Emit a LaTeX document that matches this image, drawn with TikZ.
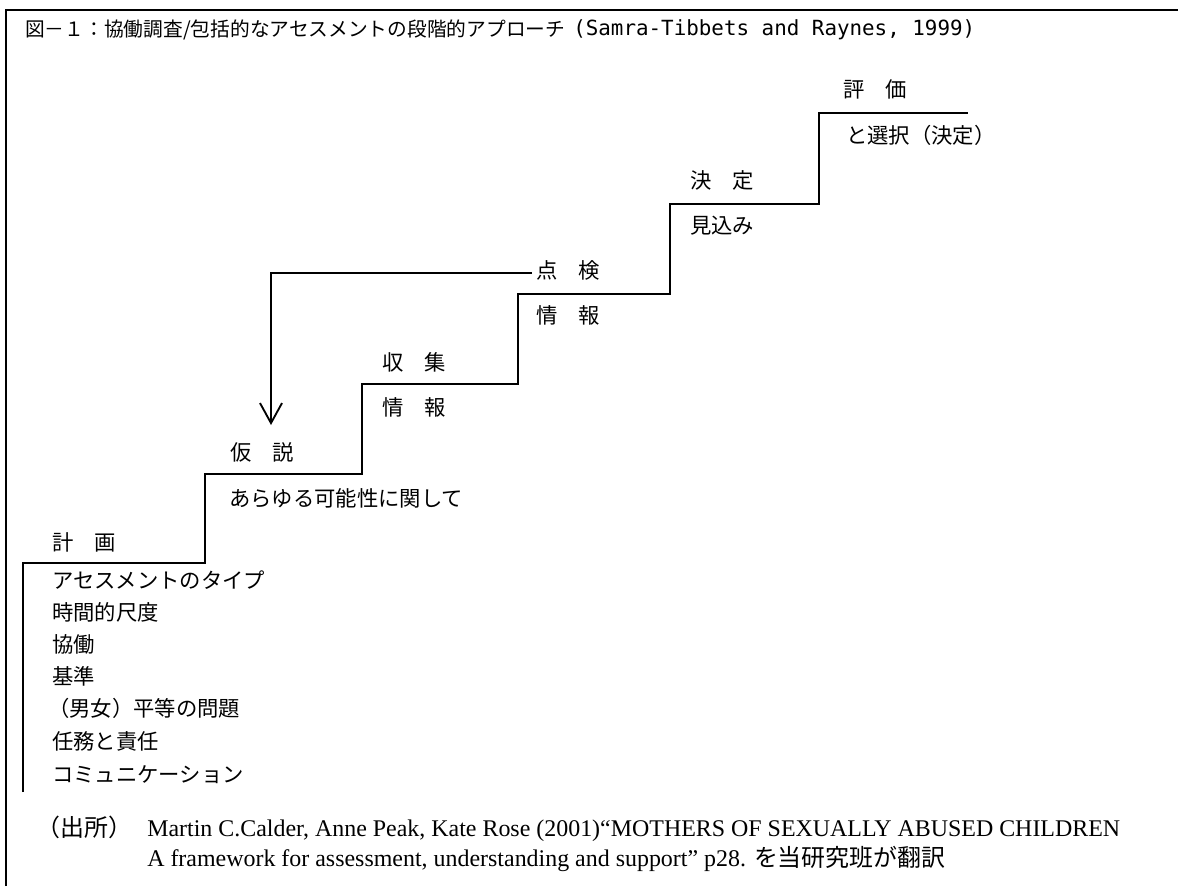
\documentclass[tikz,border=0pt]{standalone}
\usepackage{fontspec}
\setmainfont{Liberation Serif}
\newfontfamily\jp{Noto Sans CJK JP}
\newfontfamily\gmono{DejaVu Sans Mono}
\usetikzlibrary{arrows.meta}
\newlength\reflen
\AtBeginDocument{\settowidth{\reflen}{\normalfont\fontsize{15}{15}\selectfont Martin C.Calder, Anne Peak, Kate Rose (2001)“MOTHERS OF SEXUALLY ABUSED CHILDREN}}
\begin{document}
\begin{tikzpicture}[x=0.75pt,y=-0.75pt,
  lbl/.style={anchor=west,inner sep=0pt,font=\jp\fontsize{16}{16}\selectfont,text height=0.88em,text depth=0.12em},
  stair/.style={line width=1.4pt,line join=miter},
  frame/.style={line width=1.4pt}]
\useasboundingbox (0,0) rectangle (1178,886);
\pgfmathsetmacro\fs{15*729.75/\reflen}
% outer frame
\draw[frame] (6,886) -- (6,10) -- (1178,10);
% title
\node[anchor=west,inner sep=0pt] (title) at (25,30)
  {\resizebox{405pt}{!}{\jp 図－１：協働調査/包括的なアセスメントの段階的アプローチ}};
\node[anchor=west,inner sep=0pt] (titleref) at (573,30)
  {\resizebox{301.5pt}{!}{\gmono (Samra-Tibbets and Raynes, 1999)}};
% staircase
\draw[stair] (23,792) -- (23,563) -- (205,563) -- (205,474) -- (362,474) -- (362,384)
  -- (518,384) -- (518,294) -- (670,294) -- (670,204) -- (819,204) -- (819,113) -- (968,113);
% labels above steps
\node[lbl] (keikaku) at (52,545) {計　画};
\node[lbl] (kasetsu) at (230,455) {仮　説};
\node[lbl] (shushu) at (382,365) {収　集};
\node[lbl] (tenken) at (536,273) {点　検};
\node[lbl] (kettei) at (690,183) {決　定};
\node[lbl] (hyoka) at (843,92) {評　価};
% labels below steps
\node[lbl] (arayuru) at (229,501) {あらゆる可能性に関して};
\node[lbl] (joho1) at (382,410) {情　報};
\node[lbl] (joho2) at (536,318) {情　報};
\node[lbl] (mikomi) at (690,228) {見込み};
\node[lbl] (sentaku) at (846,138) {と選択（決定）};
% list
\node[lbl] (l1) at (52,583) {アセスメントのタイプ};
\node[lbl] (l2) at (52,615) {時間的尺度};
\node[lbl] (l3) at (52,647) {協働};
\node[lbl] (l4) at (52,679) {基準};
\node[lbl] (l5) at (48,711) {（男女）平等の問題};
\node[lbl] (l6) at (52,744) {任務と責任};
\node[lbl] (l7) at (52,777) {コミュニケーション};
% arrow
\coordinate (tip) at (271,425);
\draw[line width=1.4pt,-{Straight Barb[length=15pt,width=16.5pt,line width=1.4pt]}]
  ([xshift=-3pt]tenken.west) -| (tip);
% footer
\node[anchor=base west,inner sep=0pt,font=\jp\fontsize{\fs}{\fs}\selectfont] (src) at (36,836) {（出所）};
\node[anchor=base west,inner sep=0pt,font=\fontsize{\fs}{\fs}\selectfont] (ref1) at (147,836)
  {Martin C.Calder, Anne Peak, Kate Rose (2001)“MOTHERS OF SEXUALLY ABUSED CHILDREN};
\node[anchor=base west,inner sep=0pt,font=\fontsize{\fs}{\fs}\selectfont] (ref2) at (147,866)
  {A framework for assessment, understanding and support” p28. {\jp を当研究班が翻訳}};
\end{tikzpicture}
\end{document}
